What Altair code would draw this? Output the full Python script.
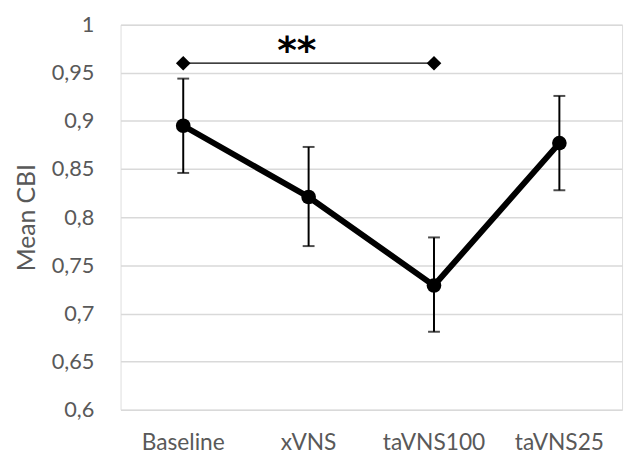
import altair as alt
import pandas as pd

categories = ["Baseline", "xVNS", "taVNS100", "taVNS25"]
means = [0.895, 0.821, 0.729, 0.877]
err_low = [0.846, 0.770, 0.681, 0.828]
err_high = [0.944, 0.873, 0.779, 0.926]

sig_groups = ["Baseline", "taVNS100"]
sig_level = [0.96, 0.96]
sig_label = ["**"]
sig_label_pos = ["xVNS"]
sig_label_y = [0.972]

df = pd.DataFrame({"cat": categories, "mean": means, "lo": err_low, "hi": err_high})
sig = pd.DataFrame({"cat": sig_groups, "y": sig_level})
lab = pd.DataFrame({"cat": sig_label_pos, "y": sig_label_y, "t": sig_label})

FONT = "Lato"
GREY = "#595959"

x = alt.X("cat:N", sort=categories, title=None,
          scale=alt.Scale(domain=categories, paddingInner=0, paddingOuter=0),
          axis=alt.Axis(labelAngle=0, ticks=False, domain=False, labelFontSize=23,
                        labelColor=GREY, labelFont=FONT, labelPadding=22, grid=False))
yscale = alt.Scale(domain=[0.6, 1.0], nice=False, zero=False)
yaxis = alt.Axis(values=[0.6, 0.65, 0.7, 0.75, 0.8, 0.85, 0.9, 0.95, 1.0],
                 labelExpr="replace(format(datum.value, '.2~f'), '.', ',')",
                 domain=False, ticks=False, tickSize=0, grid=True, gridColor="#d9d9d9", gridWidth=1.5,
                 labelFontSize=22, labelColor=GREY, labelFont=FONT, labelPadding=27,
                 titleFontSize=25, titleColor=GREY, titleFont=FONT, titleFontWeight="normal",
                 titlePadding=12)


def Y(field):
    return alt.Y(field, scale=yscale, axis=yaxis, title="Mean CBI")


base = alt.Chart(df)
rules = base.mark_rule(color="black", strokeWidth=2).encode(x=x, y=Y("lo:Q"), y2="hi:Q")
cap_lo = base.mark_tick(color="black", thickness=2, size=12, orient="horizontal").encode(x=x, y=Y("lo:Q"))
cap_hi = base.mark_tick(color="black", thickness=2, size=12, orient="horizontal").encode(x=x, y=Y("hi:Q"))
line = base.mark_line(color="black", strokeWidth=6).encode(x=x, y=Y("mean:Q"))
pts = base.mark_point(filled=True, color="black", size=220, opacity=1).encode(x=x, y=Y("mean:Q"))

sig_line = alt.Chart(sig).mark_line(color="black", strokeWidth=1.3).encode(x=x, y=Y("y:Q"))
sig_pts = alt.Chart(sig).mark_point(shape="diamond", filled=True, color="black", size=220,
                                    opacity=1).encode(x=x, y=Y("y:Q"))
sig_text = alt.Chart(lab).mark_text(fontSize=38, fontWeight="bold", font="DejaVu Sans", dx=-12,
                                     baseline="middle", color="black").encode(
    x=x, y=Y("y:Q"), text="t:N")

chart = alt.layer(rules, cap_lo, cap_hi, line, pts, sig_line, sig_pts, sig_text).properties(
    width=508, height=390,
    autosize=alt.AutoSizeParams(type="none"),
    padding={"left": 114, "top": 14, "right": 5, "bottom": 47},
).configure_view(strokeWidth=0).configure(background="white")

chart.save("out.html", embed_options={"renderer": "svg", "actions": False})
